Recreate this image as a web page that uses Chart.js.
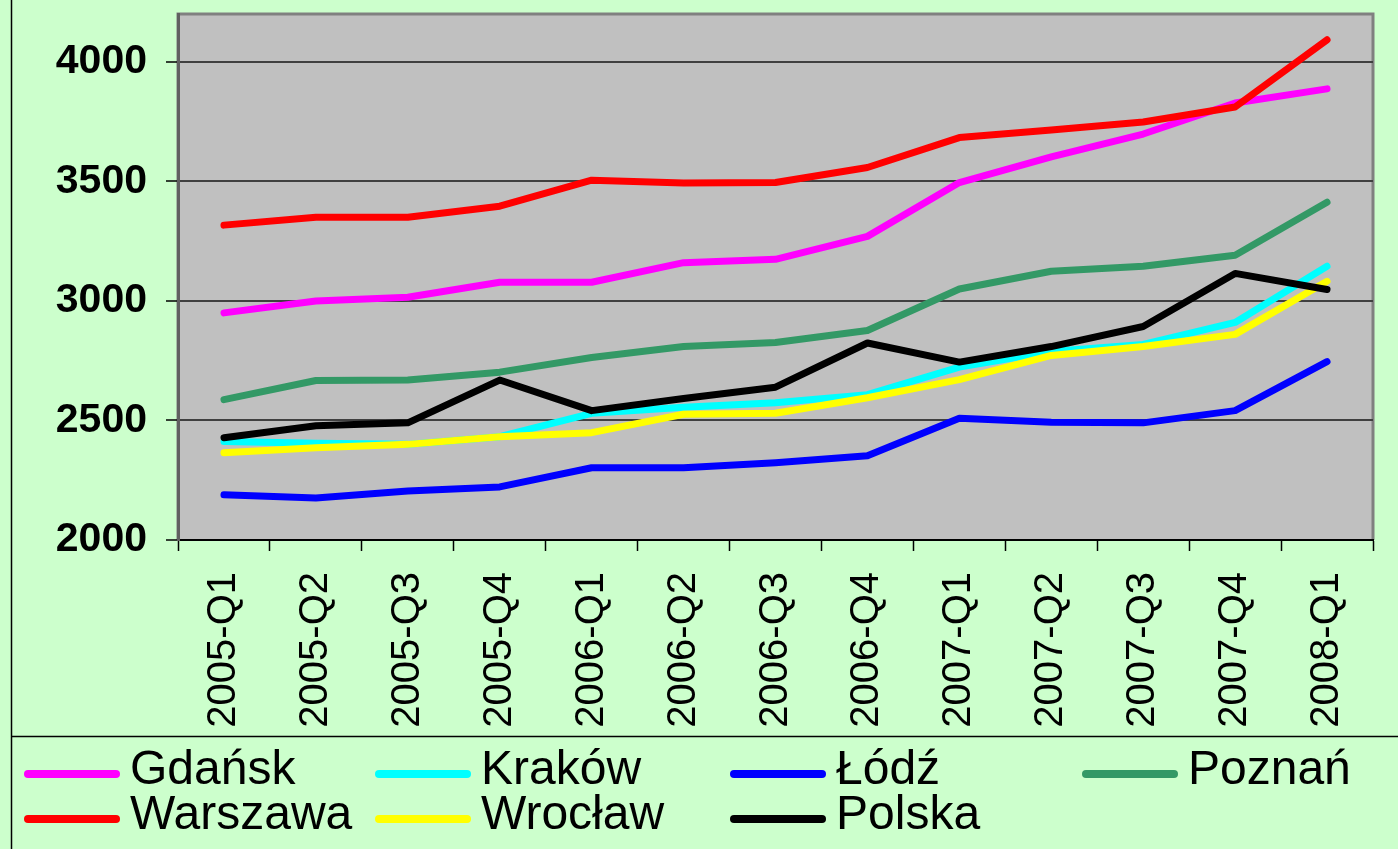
<!DOCTYPE html>
<html><head><meta charset="utf-8">
<script src="https://cdn.jsdelivr.net/npm/chart.js@4"></script>
<style>html,body{margin:0;padding:0;background:#CCFFCC;overflow:hidden}#wrap{width:1398px;height:849px;position:relative}</style>
</head><body><div id="wrap"><canvas id="c" width="1398" height="849"></canvas></div>
<script>
const categories = ['2005-Q1','2005-Q2','2005-Q3','2005-Q4','2006-Q1','2006-Q2','2006-Q3','2006-Q4','2007-Q1','2007-Q2','2007-Q3','2007-Q4','2008-Q1'];
const seriesNames = ['Gdańsk','Kraków','Łódź','Poznań','Warszawa','Wrocław','Polska'];
const gdansk   = [2950,3000,3015,3078,3078,3160,3174,3270,3495,3602,3698,3828,3887];
const krakow   = [2412,2405,2400,2432,2530,2555,2574,2608,2723,2788,2818,2910,3145];
const lodz     = [2189,2176,2205,2222,2302,2302,2323,2352,2509,2493,2490,2541,2746];
const poznan   = [2587,2667,2669,2702,2763,2809,2826,2876,3050,3124,3145,3191,3413];
const warszawa = [3317,3350,3350,3396,3505,3493,3495,3558,3683,3715,3748,3811,4092];
const wroclaw  = [2365,2386,2400,2432,2449,2526,2530,2595,2671,2772,2809,2860,3082];
const polska   = [2428,2478,2490,2669,2541,2592,2639,2824,2744,2809,2893,3115,3048];
const yTicks = [2000,2500,3000,3500,4000];

const seriesValues = [gdansk,krakow,lodz,poznan,warszawa,wroclaw,polska];
const seriesColors = ['#FF00FF','#00FFFF','#0000FF','#339966','#FF0000','#FFFF00','#000000'];

const FONT = "'Liberation Sans', Arial, sans-serif";

const bgPlugin = {
  id: 'bg',
  beforeDraw(chart) {
    const ctx = chart.ctx, a = chart.chartArea;
    ctx.save();
    ctx.fillStyle = '#CCFFCC';
    ctx.fillRect(0, 0, chart.width, chart.height);
    ctx.fillStyle = '#C0C0C0';
    ctx.fillRect(a.left, a.top, a.right - a.left, a.bottom - a.top);
    ctx.strokeStyle = '#808080';
    ctx.lineWidth = 3;
    ctx.beginPath();
    ctx.moveTo(a.left, a.bottom);
    ctx.lineTo(a.left, a.top);
    ctx.lineTo(a.right, a.top);
    ctx.lineTo(a.right, a.bottom);
    ctx.stroke();
    ctx.strokeStyle = '#000000';
    ctx.lineWidth = 1.5;
    ctx.beginPath();
    ctx.moveTo(11.5, 0); ctx.lineTo(11.5, chart.height);
    ctx.moveTo(11.5, 736.5); ctx.lineTo(chart.width, 736.5);
    ctx.stroke();
    ctx.restore();
  }
};

const legendPlugin = {
  id: 'customLegend',
  afterDraw(chart) {
    const ctx = chart.ctx;
    const colX = [25, 376, 731, 1083];
    const rowY = [774, 819];
    ctx.save();
    chart.data.datasets.forEach((ds, i) => {
      const x = colX[i % 4], y = rowY[Math.floor(i / 4)];
      ctx.strokeStyle = ds.borderColor;
      ctx.lineWidth = 8;
      ctx.lineCap = 'round';
      ctx.beginPath();
      ctx.moveTo(x + 3, y); ctx.lineTo(x + 91, y);
      ctx.stroke();
      ctx.fillStyle = '#000000';
      ctx.font = '48px ' + FONT;
      ctx.textBaseline = 'alphabetic';
      ctx.textAlign = 'left';
      ctx.fillText(ds.label, x + 105, y + 10);
    });
    ctx.restore();
  }
};

const datasets = seriesNames.map((name, i) => ({
  label: name,
  data: seriesValues[i],
  borderColor: seriesColors[i],
  backgroundColor: seriesColors[i],
  borderWidth: 7,
  borderCapStyle: 'round',
  borderJoinStyle: 'round',
  pointRadius: 0,
  pointHoverRadius: 0,
  tension: 0,
  fill: false,
  order: seriesNames.length - i
}));

new Chart(document.getElementById('c'), {
  type: 'line',
  data: { labels: categories, datasets },
  options: {
    responsive: false,
    animation: false,
    devicePixelRatio: 1,
    layout: { padding: { top: 14, right: 25, bottom: 113, left: 0 } },
    plugins: { legend: { display: false }, tooltip: { enabled: false } },
    scales: {
      x: {
        offset: true,
        afterFit: s => { s.height = 196; s.paddingLeft = 0; s.paddingRight = 0; },
        border: { display: true, color: '#000000', width: 2 },
        grid: { display: true, drawOnChartArea: false, offset: true, tickLength: 11, tickColor: '#000000', tickWidth: 1.5 },
        ticks: {
          autoSkip: false, minRotation: 90, maxRotation: 90, padding: 21,
          color: '#000000', font: { family: FONT, size: 40 }
        }
      },
      y: {
        min: 2000, max: 4200,
        afterFit: s => { s.width = 178; s.paddingTop = 0; s.paddingBottom = 0; },
        afterBuildTicks: s => { s.ticks = yTicks.map(v => ({ value: v })); },
        border: { display: true, color: '#606060', width: 3 },
        grid: { color: '#404040', lineWidth: 2, tickLength: 12, tickColor: '#000000', tickWidth: 1.5 },
        ticks: {
          padding: 19, color: '#000000',
          callback: v => String(v),
          font: { family: FONT, size: 41, weight: 'bold' }
        }
      }
    }
  },
  plugins: [bgPlugin, legendPlugin]
});
</script>
</body></html>
